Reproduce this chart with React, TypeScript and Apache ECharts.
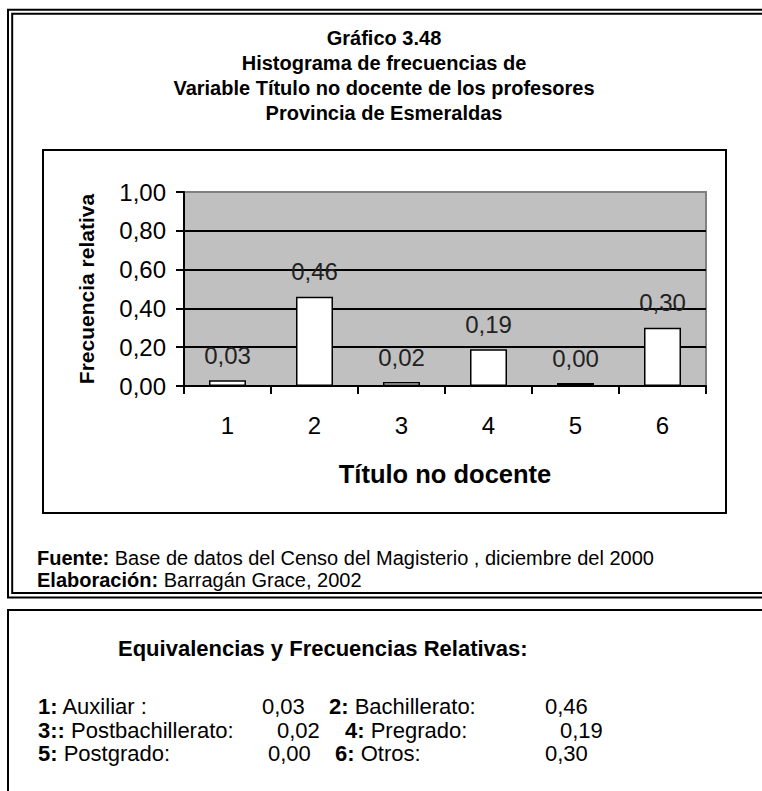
import React, { useEffect, useRef } from "react";
import * as echarts from "echarts";

const categories = ["1", "2", "3", "4", "5", "6"];
const values = [0.03, 0.46, 0.02, 0.19, 0.004, 0.3];
const yTicks = [0, 0.2, 0.4, 0.6, 0.8, 1.0];
const titleLines = [
  "Gráfico 3.48",
  "Histograma de frecuencias de",
  "Variable Título no docente de los profesores",
  "Provincia de Esmeraldas",
];
const equivNames = [
  "1: Auxiliar :",
  "2: Bachillerato:",
  "3:: Postbachillerato:",
  "4: Pregrado:",
  "5: Postgrado:",
  "6: Otros:",
];
const equivValues = ["0,03", "0,46", "0,02", "0,19", "0,00", "0,30"];

const FONT = "'Liberation Sans', Arial, sans-serif";
const fmt = (v: number) => v.toFixed(2).replace(".", ",");

export default function App() {
  const ref = useRef<HTMLDivElement>(null);
  useEffect(() => {
    if (!ref.current) return;
    const chart = echarts.init(ref.current, undefined, { renderer: "svg" });

    const namePos = [
      [38, 706], [329, 706],
      [38, 730], [345, 730],
      [38, 753], [335, 753],
    ];
    const valPos = [262, 545, 277, 560, 268, 545];

    const legendTexts: any[] = [];
    equivNames.forEach((n, i) => {
      let j = n.indexOf(":");
      while (n[j + 1] === ":") j++;
      const num = n.slice(0, j + 1);
      const rest = n.slice(j + 1);
      legendTexts.push({
        type: "text",
        left: namePos[i][0],
        top: namePos[i][1] - 11,
        style: {
          text: `{b|${num}}{r|${rest}}`,
          rich: {
            b: { fontFamily: FONT, fontSize: 22, fontWeight: "bold", fill: "#000" },
            r: { fontFamily: FONT, fontSize: 22, fill: "#000" },
          },
        },
      });
      legendTexts.push({
        type: "text",
        left: valPos[i],
        top: namePos[i][1] - 11,
        style: { text: equivValues[i], fontFamily: FONT, fontSize: 22, fill: "#000" },
      });
    });

    chart.setOption({
      animation: false,
      backgroundColor: "#fff",
      grid: {
        left: 184,
        top: 192,
        width: 522,
        height: 194,
        show: true,
        backgroundColor: "#c0c0c0",
        borderColor: "#808080",
        borderWidth: 2,
      },
      xAxis: {
        type: "category",
        data: categories,
        axisLine: { lineStyle: { color: "#000", width: 2 } },
        axisTick: { show: true, length: 8, lineStyle: { color: "#000", width: 2 } },
        axisLabel: { fontFamily: FONT, fontSize: 24, color: "#000", margin: 27 },
        name: "Título no docente",
        nameLocation: "middle",
        nameGap: 75,
        nameTextStyle: { fontFamily: FONT, fontSize: 25.5, fontWeight: "bold", color: "#000" },
      },
      yAxis: {
        type: "value",
        min: 0,
        max: 1,
        interval: 0.2,
        axisLine: { show: true, lineStyle: { color: "#000", width: 2 } },
        axisTick: { show: true, length: 8, lineStyle: { color: "#000", width: 2 } },
        axisLabel: {
          fontFamily: FONT,
          fontSize: 24,
          color: "#000",
          margin: 18,
          formatter: (v: number) => fmt(v),
        },
        splitLine: {
          show: true,
          lineStyle: {
            color: yTicks.map((t) => (t === 1 ? "#808080" : "#000")),
            width: 2,
          },
        },
        name: "Frecuencia relativa",
        nameLocation: "middle",
        nameRotate: 90,
        nameGap: 87,
        nameTextStyle: { fontFamily: FONT, fontSize: 21, fontWeight: "bold", color: "#000" },
      },
      series: [
        {
          type: "bar",
          data: values,
          barWidth: 37,
          barMinHeight: 3,
          itemStyle: { color: "#fff", borderColor: "#000", borderWidth: 1.5 },
          label: {
            show: true,
            position: "top",
            distance: 13,
            fontFamily: FONT,
            fontSize: 24,
            color: "#222",
            formatter: (p: any) => fmt(p.value),
          },
        },
      ],
      graphic: [
        { type: "rect", shape: { x: 8, y: 9.8, width: 800, height: 587.7 }, style: { fill: "none", stroke: "#000", lineWidth: 2 }, z: 10 },
        { type: "rect", shape: { x: 12.2, y: 13.8, width: 800, height: 579.2 }, style: { fill: "none", stroke: "#000", lineWidth: 2 }, z: 10 },
        { type: "rect", shape: { x: 8, y: 610, width: 800, height: 300 }, style: { fill: "none", stroke: "#000", lineWidth: 2 }, z: 10 },
        { type: "rect", shape: { x: 43, y: 150, width: 683, height: 363 }, style: { fill: "none", stroke: "#000", lineWidth: 2 }, z: 10 },
        {
          type: "text",
          x: 384,
          y: 25.5,
          style: {
            text: titleLines.join("\n"),
            fontFamily: FONT,
            fontSize: 20,
            fontWeight: "bold",
            lineHeight: 25,
            textAlign: "center",
            fill: "#000",
          },
        },
        {
          type: "text",
          left: 37,
          top: 548,
          style: {
            text: "{b|Fuente:}{r| Base de datos del Censo del Magisterio , diciembre del 2000}\n{b|Elaboración:}{r| Barragán Grace, 2002}",
            rich: {
              b: { fontFamily: FONT, fontSize: 20, fontWeight: "bold", fill: "#000", lineHeight: 22 },
              r: { fontFamily: FONT, fontSize: 20, fill: "#000", lineHeight: 22 },
            },
          },
        },
        {
          type: "text",
          left: 118,
          top: 637,
          style: {
            text: "Equivalencias y Frecuencias Relativas:",
            fontFamily: FONT,
            fontSize: 22,
            fontWeight: "bold",
            fill: "#000",
          },
        },
        ...legendTexts,
      ],
    });
    return () => chart.dispose();
  }, []);
  return (
    <div
      ref={ref}
      style={{ position: "absolute", left: 0, top: 0, width: 762, height: 791 }}
    />
  );
}
